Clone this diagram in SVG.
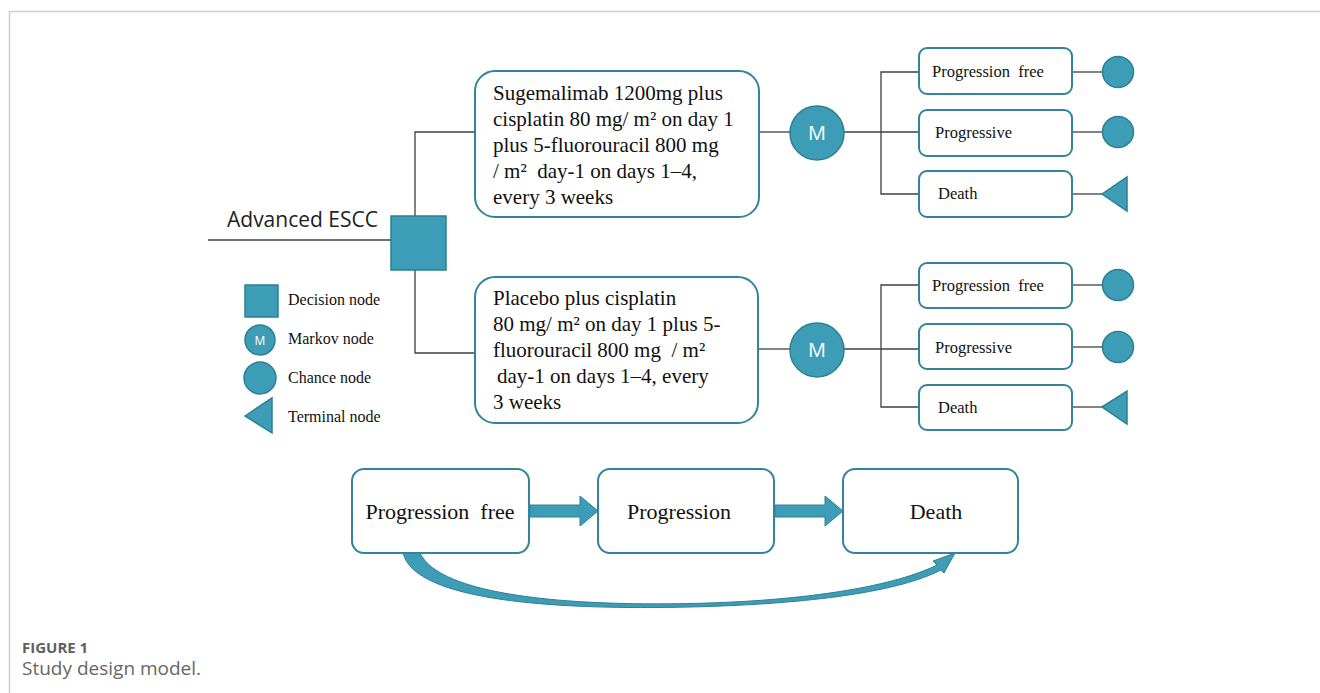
<svg xmlns="http://www.w3.org/2000/svg" width="1320" height="693" viewBox="0 0 1320 693">
<style>
.ln{stroke:#404040;stroke-width:1.3;fill:none}
.box{fill:#fff;stroke:#31849B;stroke-width:2}
.nd{fill:#3E9DB6;stroke:#2E7F93;stroke-width:1.5}
.tr{font-family:"Liberation Serif",serif;fill:#111}
.big{font-size:21px}
.sm{font-size:16.5px}
.lg{font-size:16px}
.mid{font-size:22px}
.mk{font-family:"Open Sans","Liberation Sans",sans-serif;fill:#fff;text-anchor:middle}
.blk{fill:#3E9DB6;stroke:#2E7F93;stroke-width:1}
</style>
<rect width="1320" height="693" fill="#fff"/>
<g id="frame">
<line x1="9" y1="11.5" x2="1320" y2="11.5" stroke="#cfcfcf" stroke-width="1.5"/>
<line x1="9.5" y1="11" x2="9.5" y2="693" stroke="#cfcfcf" stroke-width="1.5"/>
</g>
<g id="connectors">
<line class="ln" x1="208" y1="240" x2="391" y2="240"/>
<polyline class="ln" points="475,132 415,132 415,216"/>
<polyline class="ln" points="415,270 415,353 475,353"/>
<line class="ln" x1="759" y1="132" x2="790" y2="132"/>
<line class="ln" x1="844" y1="132" x2="919" y2="132"/>
<polyline class="ln" points="919,72 881,72 881,194 919,194"/>
<line class="ln" x1="1072" y1="72" x2="1102" y2="72"/>
<line class="ln" x1="1072" y1="132" x2="1102" y2="132"/>
<line class="ln" x1="1072" y1="194" x2="1102" y2="194"/>
<line class="ln" x1="758" y1="349" x2="790" y2="349"/>
<line class="ln" x1="844" y1="349" x2="919" y2="349"/>
<polyline class="ln" points="919,285 881,285 881,407 919,407"/>
<line class="ln" x1="1072" y1="285" x2="1102" y2="285"/>
<line class="ln" x1="1072" y1="347" x2="1102" y2="347"/>
<line class="ln" x1="1072" y1="407" x2="1102" y2="407"/>
<polygon class="blk" points="530,505 580,505 580,496 598,511 580,526 580,517 530,517"/>
<polygon class="blk" points="775,505 825,505 825,496 843,511 825,526 825,517 775,517"/>
<path class="blk" d="M403,553 C415,602 560,610 690,607 C815,604 900,591 941,570 L944,573 L955,553 L933,561 L937,565 C897,585 812,601 690,603.5 C570,606 440,596 420,553 Z"/>
</g>
<g id="root">
<text x="227" y="227" font-family="Open Sans, Liberation Sans, sans-serif" font-size="21" fill="#222">Advanced ESCC</text>
</g>
<g id="decision"><rect class="nd" x="391" y="216" width="55" height="54"/></g>
<g id="arm1">
<rect class="box" x="475" y="71" width="284" height="146" rx="20"/>
<text class="tr big" x="493" y="100">Sugemalimab 1200mg plus</text>
<text class="tr big" x="493" y="126">cisplatin 80 mg/ m² on day 1</text>
<text class="tr big" x="493" y="152">plus 5-fluorouracil 800 mg</text>
<text class="tr big" x="493" y="178" xml:space="preserve">/ m²  day-1 on days 1–4,</text>
<text class="tr big" x="493" y="204">every 3 weeks</text>
</g>
<g id="arm2">
<rect class="box" x="475" y="277" width="283" height="146" rx="20"/>
<text class="tr big" x="493" y="305">Placebo plus cisplatin</text>
<text class="tr big" x="493" y="331">80 mg/ m² on day 1 plus 5-</text>
<text class="tr big" x="493" y="357" xml:space="preserve">fluorouracil 800 mg  / m²</text>
<text class="tr big" x="497" y="383">day-1 on days 1–4, every</text>
<text class="tr big" x="493" y="409">3 weeks</text>
</g>
<g id="markov1"><circle class="nd" cx="817" cy="133" r="27"/><text class="mk" x="817" y="140" font-size="20">M</text></g>
<g id="markov2"><circle class="nd" cx="817" cy="350" r="27"/><text class="mk" x="817" y="357" font-size="20">M</text></g>
<g id="pf1"><rect class="box" x="919" y="48" width="153" height="46" rx="8"/><text class="tr sm" x="932" y="77" xml:space="preserve">Progression  free</text></g>
<g id="pg1"><rect class="box" x="919" y="110" width="153" height="46" rx="8"/><text class="tr sm" x="935" y="138">Progressive</text></g>
<g id="dt1"><rect class="box" x="919" y="171" width="153" height="46" rx="8"/><text class="tr sm" x="938" y="199">Death</text></g>
<g id="pf2"><rect class="box" x="919" y="263" width="153" height="45" rx="8"/><text class="tr sm" x="932" y="291" xml:space="preserve">Progression  free</text></g>
<g id="pg2"><rect class="box" x="919" y="324" width="153" height="45" rx="8"/><text class="tr sm" x="935" y="353">Progressive</text></g>
<g id="dt2"><rect class="box" x="919" y="385" width="153" height="45" rx="8"/><text class="tr sm" x="938" y="413">Death</text></g>
<g id="c1"><circle class="nd" cx="1118" cy="72" r="15.5"/></g>
<g id="c2"><circle class="nd" cx="1118" cy="132" r="15.5"/></g>
<g id="t1"><polygon class="nd" points="1102,194 1127,177 1127,211"/></g>
<g id="c3"><circle class="nd" cx="1118" cy="285" r="15.5"/></g>
<g id="c4"><circle class="nd" cx="1118" cy="347" r="15.5"/></g>
<g id="t2"><polygon class="nd" points="1102,407 1127,391 1127,424"/></g>
<g id="legend">
<rect class="nd" x="245" y="285" width="33" height="32"/>
<text class="tr lg" x="288" y="305">Decision node</text>
<circle class="nd" cx="260" cy="340" r="15"/><text class="mk" x="260" y="345" font-size="12">M</text>
<text class="tr lg" x="288" y="344">Markov node</text>
<circle class="nd" cx="260" cy="378" r="16"/>
<text class="tr lg" x="288" y="383">Chance node</text>
<polygon class="nd" points="245,416 272,398 272,433"/>
<text class="tr lg" x="288" y="422">Terminal node</text>
</g>
<g id="s1"><rect class="box" x="352" y="469" width="177" height="84" rx="12"/><text class="tr mid" x="440" y="519" text-anchor="middle" xml:space="preserve">Progression  free</text></g>
<g id="s2"><rect class="box" x="598" y="469" width="176" height="84" rx="12"/><text class="tr mid" x="679" y="519" text-anchor="middle">Progression</text></g>
<g id="s3"><rect class="box" x="843" y="469" width="175" height="84" rx="12"/><text class="tr mid" x="936" y="519" text-anchor="middle">Death</text></g>
<g id="caption">
<text x="22" y="653" font-family="Open Sans, Liberation Sans, sans-serif" font-size="15" font-weight="bold" fill="#5f5f5f">FIGURE 1</text>
<text x="22" y="675" font-family="Open Sans, Liberation Sans, sans-serif" font-size="19" fill="#666">Study design model.</text>
</g>
</svg>
